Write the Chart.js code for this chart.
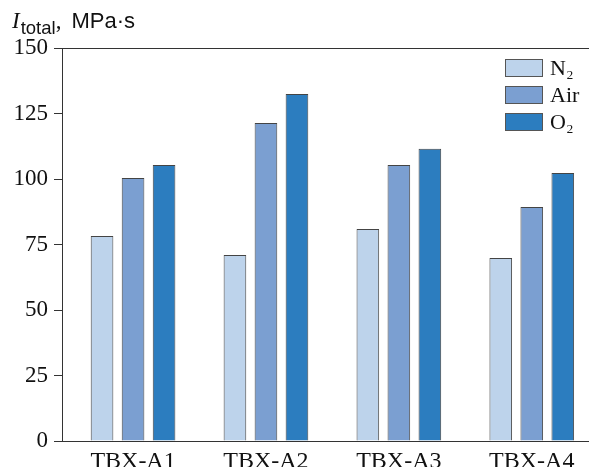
<!DOCTYPE html>
<html>
<head>
<meta charset="utf-8">
<script src="https://cdn.jsdelivr.net/npm/chart.js@4/dist/chart.umd.min.js"></script>
<style>
  html, body { margin: 0; padding: 0; background: #fff; overflow: hidden; width: 589px; height: 467px; }
  #wrap { position: relative; width: 589px; height: 480px; }
  #ylabel { position: absolute; left: 12px; top: 8px; font-size: 23px; color: #111; white-space: nowrap; font-family: 'Liberation Serif', serif; }
  #ylabel i { font-style: italic; margin-right: 1px; }
  #ylabel .sub { font-family: 'Liberation Sans', sans-serif; font-size: 18.5px; position: relative; top: 6px; }
  #ylabel .sans { font-family: 'Liberation Sans', sans-serif; font-size: 22px; margin-left: 10px; }
  #legend { position: absolute; left: 505px; top: 59px; font-family: 'Liberation Serif', serif; font-size: 22px; color: #111; }
  #legend .row { position: relative; height: 27px; }
  #legend .box { position: absolute; left: 0; top: 0; width: 36px; height: 16px; border: 1px solid #555; }
  #legend .txt { position: absolute; left: 45px; top: -4px; white-space: nowrap; }
</style>
</head>
<body>
<div id="wrap">
  <canvas id="chart" width="589" height="480"></canvas>
  <div id="ylabel"><i>I</i><span class="sub">total</span>,<span class="sans">MPa·s</span></div>
  <div id="legend"></div>
</div>
<script>
(function () {
  'use strict';

  var categories = ['TBX-A1', 'TBX-A2', 'TBX-A3', 'TBX-A4'];
  var seriesNames = ['N₂', 'Air', 'O₂'];
  var n2Values  = [78.2, 71.0, 80.9, 69.8];
  var airValues = [100.4, 121.4, 105.3, 89.3];
  var o2Values  = [105.3, 132.4, 111.5, 102.3];
  var yTicks = [0, 25, 50, 75, 100, 125, 150];

  var COLORS = ['#bdd3eb', '#7b9fd1', '#2c7dbf'];
  var EDGE = '#444';
  var AXIS = '#333';
  var SERIF = "'Liberation Serif', 'DejaVu Serif', serif";

  function points(vals) {
    return vals.map(function (v, i) { return { x: i, y: v }; });
  }

  var allSeries = [n2Values, airValues, o2Values];
  var datasets = allSeries.map(function (vals, k) {
    return {
      label: seriesNames[k],
      data: points(vals),
      backgroundColor: COLORS[k],
      borderColor: EDGE,
      borderWidth: 1,
      categoryPercentage: 0.70,
      barPercentage: 0.73
    };
  });

  // html legend built from the same arrays
  var legend = document.getElementById('legend');
  seriesNames.forEach(function (name, k) {
    var row = document.createElement('div');
    row.className = 'row';
    row.innerHTML = '<span class="box" style="background:' + COLORS[k] + '"></span><span class="txt">' + name + '</span>';
    legend.appendChild(row);
  });

  new Chart(document.getElementById('chart'), {
    type: 'bar',
    data: { datasets: datasets },
    options: {
      responsive: false,
      animation: false,
      devicePixelRatio: 1,
      layout: { padding: { top: 48, left: 0, right: 0, bottom: 0 } },
      plugins: { legend: { display: false }, tooltip: { enabled: false } },
      scales: {
        x: {
          type: 'linear',
          offset: false,
          min: -0.5345,
          max: 3.4305,
          afterBuildTicks: function (s) {
            s.ticks = categories.map(function (c, i) { return { value: i }; });
          },
          afterFit: function (s) { s.height = 39; },
          grid: { display: false, drawTicks: false, offset: false },
          border: { display: true, color: AXIS, width: 1 },
          ticks: {
            padding: 6,
            color: '#111',
            font: { family: SERIF, size: 24 },
            maxRotation: 0,
            autoSkip: false,
            callback: function (v) { return categories[v] || ''; }
          }
        },
        y: {
          min: 0,
          max: 150,
          afterBuildTicks: function (s) {
            s.ticks = yTicks.map(function (v) { return { value: v }; });
          },
          afterFit: function (s) { s.width = 62; },
          border: { display: true, color: AXIS, width: 1 },
          grid: {
            drawOnChartArea: true,
            tickLength: 8,
            tickColor: AXIS,
            color: function (c) { return c.tick && c.tick.value === 150 ? AXIS : 'rgba(0,0,0,0)'; }
          },
          ticks: {
            padding: 6,
            color: '#111',
            font: { family: SERIF, size: 23 }
          }
        }
      }
    }
  });
})();
</script>
</body>
</html>
